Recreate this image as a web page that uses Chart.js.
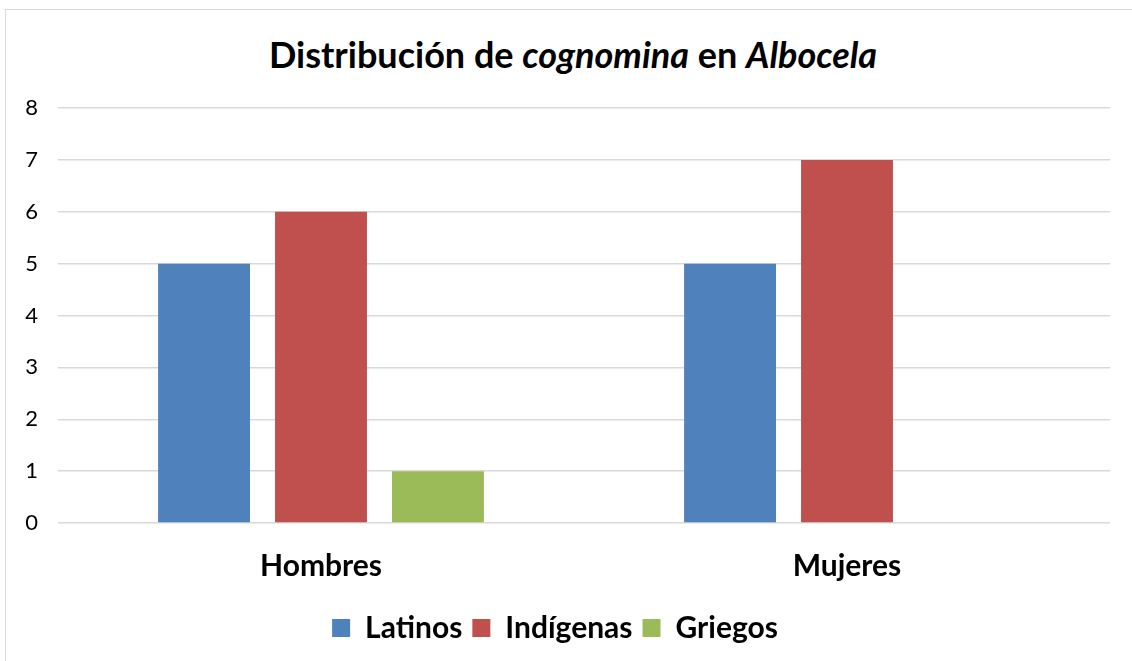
<!DOCTYPE html>
<html lang="es">
<head>
    <meta charset="UTF-8">
    <title>Distribución de cognomina en Albocela</title>
    <script src="https://cdn.jsdelivr.net/npm/chart.js@4.4.0/dist/chart.umd.min.js"></script>
    <style>
        * { margin: 0; padding: 0; box-sizing: border-box; }
        body { background: #fff; width: 1132px; height: 661px; overflow: hidden; position: relative; font-family: Lato, 'Noto Sans', sans-serif; }
        .frame {
            position: absolute; left: 5px; top: 9px; width: 1140px; height: 670px;
            border: 1px solid #d9d9d9;
        }
        .title {
            position: absolute; top: 32px; left: 0; width: 1146px; line-height: 44px;
            text-align: center; font-size: 36px; font-weight: bold; color: #000;
        }
        .chart-box { position: absolute; left: 0; top: 0; width: 1132px; height: 661px; }
    </style>
</head>
<body>
    <div class="frame"></div>
    <div class="title">Distribución de <i>cognomina</i> en <i>Albocela</i></div>
    <div class="chart-box"><canvas id="chart"></canvas></div>

    <script>
        // data
        const categories = ['Hombres', 'Mujeres'];
        const latinos = [5, 5];
        const indigenas = [6, 7];
        const griegos = [1, 0];
        const yTicks = [0, 1, 2, 3, 4, 5, 6, 7, 8];

        const FONT = "Lato, 'Noto Sans', sans-serif";

        new Chart(document.getElementById('chart'), {
            type: 'bar',
            data: {
                labels: categories,
                datasets: [
                    { label: 'Latinos', data: latinos, backgroundColor: '#4F81BD' },
                    { label: 'Indígenas', data: indigenas, backgroundColor: '#C0504D' },
                    { label: 'Griegos', data: griegos, backgroundColor: '#9BBB59' }
                ]
            },
            options: {
                responsive: true,
                maintainAspectRatio: false,
                animation: false,
                categoryPercentage: 0.667,
                barPercentage: 0.786,
                layout: { padding: { top: 108, right: 22, bottom: 8, left: 0 } },
                plugins: {
                    title: { display: false },
                    tooltip: { enabled: false },
                    legend: {
                        position: 'bottom',
                        labels: {
                            boxWidth: 18,
                            boxHeight: 18,
                            padding: 10,
                            color: '#000',
                            font: { family: FONT, size: 30, weight: 'bold' }
                        }
                    }
                },
                scales: {
                    x: {
                        grid: { display: false },
                        border: { display: false },
                        ticks: {
                            color: '#000',
                            padding: 17,
                            font: { family: FONT, size: 30, weight: 'bold' }
                        },
                        afterFit: s => { s.height = 80; }
                    },
                    y: {
                        min: 0,
                        max: 8,
                        afterBuildTicks: s => { s.ticks = yTicks.map(v => ({ value: v })); },
                        grid: { color: '#d9d9d9', lineWidth: 1.5, drawTicks: false },
                        border: { display: false },
                        ticks: {
                            color: '#000',
                            padding: 20,
                            font: { family: FONT, size: 22 }
                        },
                        afterFit: s => { s.width = 58; }
                    }
                }
            }
        });
    </script>
</body>
</html>
